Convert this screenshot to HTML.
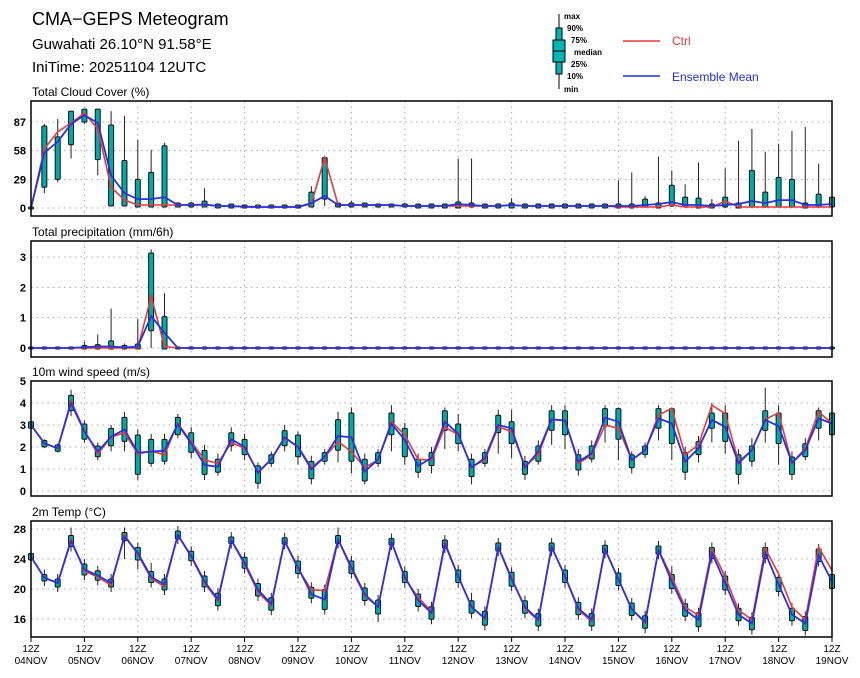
<!DOCTYPE html>
<html><head><meta charset="utf-8">
<style>
html,body{margin:0;padding:0;background:#fff;}
svg{display:block;font-family:"Liberation Sans",sans-serif;}
</style></head>
<body>
<svg id="chart" width="860" height="678" viewBox="0 0 860 678">
<text x="32" y="25" font-size="18">CMA−GEPS Meteogram</text>
<text x="32" y="49" font-size="15">Guwahati 26.10°N 91.58°E</text>
<text x="32" y="72" font-size="15">IniTime: 20251104 12UTC</text>
<g font-size="8" font-weight="bold">
<line x1="559" y1="14" x2="559" y2="89" stroke="#000"/>
<rect x="556" y="28" width="6" height="46" fill="#00b5b5" stroke="#000"/>
<rect x="553" y="40" width="12" height="22" fill="#00b5b5" stroke="#000"/>
<line x1="553" y1="51" x2="565" y2="51" stroke="#000"/>
<text x="564" y="19">max</text><text x="567" y="31">90%</text><text x="571" y="43">75%</text>
<text x="574" y="55">median</text><text x="571" y="67">25%</text><text x="567" y="79">10%</text><text x="564" y="92">min</text>
<line x1="623" y1="41" x2="660" y2="41" stroke="#e83a3a" stroke-width="1.5"/>
<text x="672" y="45" font-size="12" font-weight="normal" fill="#e83a3a">Ctrl</text>
<line x1="623" y1="76" x2="660" y2="76" stroke="#2030e0" stroke-width="1.5"/>
<text x="672" y="81" font-size="12" font-weight="normal" fill="#2030e0">Ensemble Mean</text>
</g>
</svg>
<script>
// ---- data (6-hourly, 61 steps) ----
const days = ["04NOV","05NOV","06NOV","07NOV","08NOV","09NOV","10NOV","11NOV","12NOV","13NOV","14NOV","15NOV","16NOV","17NOV","18NOV","19NOV"];
const cloudTicks = [0,29,58,87];
const precTicks = [0,1,2,3];
const windTicks = [0,1,2,3,4,5];
const tempTicks = [16,20,24,28];

const cloudMean = [0,56,67,85,94,86,33,15,9,9,11,3,3,3.5,2, 2,1.3,1,1,1,1,5,12,3,3,3,3,3,2,2,2, 2,4,3,2,2,3,2,2,2,2,2,2,2,2,2, 3,4,6,3,3,2,3,4,7,5,8,8,3,3,4];
const cloudCtrl = [0,60,77,86,96,80,21,8,3,3,3,3,3,3,2, 2,1,1,1,1,1,4,51,3,3,3,3,3,2,2,2, 2,2,2,2,2,3,2,2,2,2,2,2,2,1,1, 1,1,3,1,1,1,7,1,1,1,1,1,1,1,1];
const cloudLo = [0,22,30,65,88,50,3,3,2,2,2,2,2,2,1, 1,1,1,1,1,1,2,10,2,2,2,2,2,2,1,1, 1,1,2,1,1,1,1,1,1,1,1,1,1,1,1, 2,1,3,2,1,1,2,1,2,2,2,2,1,2,2];
const cloudHi = [0,82,71,97,99,99,83,47,28,35,62,4,4,6,3, 3,2,2,2,2,2,15,50,4,4,4,3,3,3,3,3, 3,5,4,3,3,4,3,3,3,3,3,3,3,3,3, 8,4,22,10,9,3,10,4,37,15,30,28,4,13,10];
const cloudMin = [0,15,26,50,85,33,2,2,1,1,1,1,1,1,0, 0,0,0,0,0,0,1,2,1,1,1,1,1,1,0,0, 0,0,1,0,0,0,0,0,0,0,0,0,0,0,0, 0,0,1,0,0,0,0,0,0,0,0,0,0,0,0];
const cloudMax = [0,85,90,97,100,99,98,93,69,59,66,5,6,20,4, 3,3,3,3,3,3,22,52,4,7,4,4,4,5,4,4, 4,50,50,4,4,10,4,4,4,4,4,4,4,28,36, 12,52,38,24,46,9,40,68,80,57,65,78,82,45,10];

const precMean = [0,0,0,0,0.03,0.05,0.05,0.02,0.05,1.05,0.5,0,0,0,0,0,0,0,0,0,0,0,0,0,0,0,0,0,0,0,0,0,0,0,0,0,0,0,0,0,0,0,0,0,0,0,0,0,0,0,0,0,0,0,0,0,0,0,0,0,0];
const precCtrl = [0,0,0,0,0,0,0,0,0,1.7,0.05,0,0,0,0,0,0,0,0,0,0,0,0,0,0,0,0,0,0,0,0,0,0,0,0,0,0,0,0,0,0,0,0,0,0,0,0,0,0,0,0,0,0,0,0,0,0,0,0,0,0];
const precLo = [0,0,0,0,0,0,0,0,0,0.6,0,0,0,0,0,0,0,0,0,0,0,0,0,0,0,0,0,0,0,0,0,0,0,0,0,0,0,0,0,0,0,0,0,0,0,0,0,0,0,0,0,0,0,0,0,0,0,0,0,0,0];
const precHi = [0,0,0,0,0.05,0.08,0.2,0.05,0.1,3.1,1.0,0,0,0,0,0,0,0,0,0,0,0,0,0,0,0,0,0,0,0,0,0,0,0,0,0,0,0,0,0,0,0,0,0,0,0,0,0,0,0,0,0,0,0,0,0,0,0,0,0,0];
const precMin = [0,0,0,0,0,0,0,0,0,0,0,0,0,0,0,0,0,0,0,0,0,0,0,0,0,0,0,0,0,0,0,0,0,0,0,0,0,0,0,0,0,0,0,0,0,0,0,0,0,0,0,0,0,0,0,0,0,0,0,0,0];
const precMax = [0,0,0,0,0.2,0.45,1.3,0.15,0.95,3.25,1.8,0,0,0,0,0,0,0,0,0,0,0,0,0,0,0,0,0,0,0,0,0,0,0,0,0,0,0,0,0,0,0,0,0,0,0,0,0,0,0,0,0,0,0,0,0,0,0,0,0,0];

const windMean = [3.0,2.17,1.94,4.0,2.7,1.79,2.47,2.8,1.74,1.79,1.83,3.03,2.17,1.18,1.1,2.35,2.0,0.83,1.44,2.44,2.0,0.99,1.56,2.5,2.44,0.88,1.44,3.07,2.32,1.14,1.5,3.15,2.6,1.07,1.5,3.0,2.85,1.07,1.79,3.26,3.2,1.33,1.71,3.33,3.15,1.41,1.86,3.3,3.07,1.33,1.94,3.23,2.92,1.26,1.86,3.23,2.95,1.29,1.86,3.3,3.07];
const windCtrl = [3.0,2.17,1.94,4.1,2.75,1.68,2.45,2.65,1.68,1.82,1.64,3.07,2.24,1.41,1.26,2.2,1.94,0.87,1.44,2.4,2.03,1.07,1.56,2.24,1.79,1.07,1.41,3.15,2.55,1.44,1.41,2.92,2.55,1.1,1.41,2.92,2.7,1.14,1.64,3.26,3.2,1.26,1.64,3.0,2.85,1.41,1.86,3.45,3.76,1.64,2.1,3.9,3.52,1.33,1.86,3.26,3.55,1.26,1.94,3.6,3.07];
const windLo = [2.9,2.05,1.85,3.7,2.4,1.6,2.1,2.3,0.8,1.3,1.4,2.6,1.8,0.8,0.9,2.1,1.7,0.4,1.3,2.1,1.6,0.6,1.4,1.9,1.4,0.5,1.3,2.6,1.6,0.9,1.2,2.8,2.2,0.7,1.3,2.7,2.2,0.8,1.4,2.8,2.6,1.0,1.5,3.0,2.4,1.1,1.7,2.9,2.2,0.9,1.7,2.9,2.3,0.8,1.4,2.8,2.2,0.8,1.6,2.9,2.6];
const windHi = [3.1,2.25,2.05,4.3,3.0,2.0,2.8,3.3,2.5,2.3,2.3,3.3,2.6,1.8,1.4,2.6,2.3,1.1,1.6,2.7,2.5,1.3,1.7,3.2,3.5,1.4,1.7,3.5,2.8,1.4,1.7,3.6,3.0,1.4,1.7,3.4,3.1,1.3,2.0,3.6,3.6,1.6,2.0,3.7,3.7,1.6,2.0,3.7,3.7,1.7,2.2,3.5,3.5,1.6,2.0,3.6,3.5,1.5,2.1,3.6,3.5];
const windMin = [2.8,1.95,1.75,3.4,2.2,1.4,1.8,1.8,0.5,1.1,1.2,2.4,1.5,0.5,0.7,1.8,1.4,0.1,1.1,1.8,1.2,0.3,1.2,1.3,0.8,0.3,1.1,1.8,1.2,0.6,0.8,1.9,1.8,0.3,1.1,1.7,1.5,0.5,1.2,2.1,1.9,0.7,1.3,2.2,1.4,0.8,1.5,2.3,1.4,0.5,1.3,2.2,1.7,0.3,1.1,2.2,1.2,0.5,1.4,2.3,2.0];
const windMax = [3.2,2.35,2.15,4.6,3.2,2.2,3.0,3.6,2.8,2.6,2.6,3.5,2.9,2.1,1.7,2.9,2.6,1.3,1.8,3.0,2.7,1.6,1.9,3.6,3.8,1.7,1.9,3.9,3.1,1.7,2.0,3.8,3.5,1.7,1.9,3.7,3.7,1.6,2.3,3.9,3.9,1.9,2.3,3.9,3.8,1.8,2.2,3.9,3.8,2.0,2.5,4.0,3.9,1.9,2.4,4.7,3.9,1.8,2.4,3.8,3.8];

const tempMean = [24.3,21.5,20.8,26.4,22.6,21.8,20.8,27.0,24.8,21.6,20.6,27.2,24.4,21.0,18.6,26.5,23.5,19.9,18.0,26.4,22.9,19.3,18.6,26.6,22.9,19.3,17.6,26.3,21.6,18.5,16.8,26.0,21.7,17.6,16.1,25.6,21.3,17.6,15.9,25.6,21.7,17.4,15.9,25.3,21.3,17.3,15.6,25.2,21.0,17.2,15.9,24.8,20.8,16.6,15.4,24.8,20.6,16.6,15.4,24.5,21.0];
const tempCtrl = [24.3,21.5,20.8,26.6,22.4,21.6,20.5,27.2,24.6,21.4,20.3,27.2,24.3,20.8,18.4,26.5,23.3,19.6,17.8,26.4,22.7,19.9,19.8,26.6,22.7,19.1,17.6,26.3,21.4,18.9,17.0,26.2,21.7,17.6,16.0,25.6,21.5,17.4,15.8,25.6,21.7,17.2,15.7,25.3,21.3,17.3,15.5,25.2,21.6,17.6,16.5,25.3,21.6,17.2,15.9,25.4,22.0,17.6,15.9,25.6,22.5];
const tempLo = [24.0,21.2,20.4,25.8,22.0,21.3,20.4,26.6,24.0,21.0,20.0,26.8,23.9,20.4,17.9,26.2,22.9,19.2,17.3,26.1,22.2,18.9,17.4,26.2,22.2,18.6,16.8,26.0,21.0,17.8,16.1,25.6,21.0,16.9,15.3,25.2,20.5,16.9,15.2,25.2,21.0,16.7,15.2,24.9,20.6,16.6,14.9,24.8,20.2,16.5,15.1,24.2,20.0,15.9,14.7,24.2,19.8,15.9,14.6,23.8,20.2];
const tempHi = [24.6,21.8,21.2,27.0,23.2,22.3,21.2,27.4,25.4,22.2,21.2,27.6,24.9,21.6,19.3,26.8,24.1,20.6,18.7,26.7,23.6,20.1,19.8,27.0,23.6,20.0,18.4,26.6,22.2,19.2,17.5,26.4,22.4,18.3,16.9,26.0,22.1,18.3,16.6,26.0,22.4,18.1,16.6,25.7,22.0,18.0,16.3,25.6,21.8,17.9,16.7,25.4,21.6,17.3,16.1,25.4,21.4,17.3,16.2,25.2,21.8];
const tempMin = [23.2,20.4,19.6,25.0,21.2,20.5,19.6,24.0,22.6,20.2,19.2,26.0,23.1,19.6,17.1,25.4,22.1,18.4,16.5,25.3,21.4,18.1,16.6,25.4,21.4,17.8,15.6,25.2,20.2,17.0,15.3,24.8,20.2,16.1,14.5,24.4,19.7,16.1,14.4,24.4,20.2,15.9,14.4,24.1,19.8,15.8,14.1,24.0,19.4,15.7,14.3,23.4,19.2,15.1,13.9,23.4,19.0,15.1,13.8,23.0,19.4];
const tempMax = [25.4,22.6,22.0,28.2,24.0,23.1,22.0,28.2,26.2,23.5,22.0,28.4,25.7,22.4,20.1,27.6,24.9,21.4,19.5,27.5,24.4,20.9,20.6,28.2,24.4,20.8,19.2,27.4,23.0,20.0,18.3,27.2,23.2,19.5,17.7,26.8,22.9,19.1,17.4,26.8,23.2,18.9,17.4,26.5,22.8,18.8,17.1,26.4,23.0,18.7,17.5,26.2,22.4,18.1,16.9,26.2,22.2,18.1,17.0,26.0,22.6];

// ---- drawing ----
const NS = "http://www.w3.org/2000/svg";
const svg = document.getElementById("chart");
const X0 = 31, X1 = 832, NSTEP = 60;
const xs = i => X0 + i * (X1 - X0) / NSTEP;
function mk(tag, attrs, parent) {
  const e = document.createElementNS(NS, tag);
  for (const k in attrs) e.setAttribute(k, attrs[k]);
  (parent || svg).appendChild(e);
  return e;
}
const panels = [
  {name:"cloud-cover", title:"Total Cloud Cover (%)", top:101, bottom:216, v0:0, y0:208, vRef:87, yRef:122, ticks:cloudTicks,
   mean:cloudMean, ctrl:cloudCtrl, lo:cloudLo, hi:cloudHi, mn:cloudMin, mx:cloudMax},
  {name:"precipitation", title:"Total precipitation (mm/6h)", top:241, bottom:357, v0:0, y0:348, vRef:3, yRef:257, ticks:precTicks,
   mean:precMean, ctrl:precCtrl, lo:precLo, hi:precHi, mn:precMin, mx:precMax},
  {name:"wind-speed", title:"10m wind speed (m/s)", top:381, bottom:496, v0:0, y0:491, vRef:5, yRef:381, ticks:windTicks,
   mean:windMean, ctrl:windCtrl, lo:windLo, hi:windHi, mn:windMin, mx:windMax},
  {name:"temperature", title:"2m Temp (°C)", top:521, bottom:637, v0:16, y0:619, vRef:28, yRef:529, ticks:tempTicks,
   mean:tempMean, ctrl:tempCtrl, lo:tempLo, hi:tempHi, mn:tempMin, mx:tempMax}
];
panels.forEach(p => {
  const ys = v => p.y0 + (v - p.v0) * (p.yRef - p.y0) / (p.vRef - p.v0);
  const g = mk("g", {});
  
  
  const t = mk("text", {x:32, y:p.top - 5, "font-size":12}, g);
  t.textContent = p.title;
  
  
  // grid
  for (let d = 1; d < days.length - 1; d++) {
    const gl = mk("line", {x1:xs(d*4), x2:xs(d*4), y1:p.top, y2:p.bottom, stroke:"#aaa", "stroke-dasharray":"1.5,4"}, g);
    
    
  }
  p.ticks.forEach(tv => {
    const y = ys(tv);
    if (y > p.top + 2 && y < p.bottom - 2) {
      const hl = mk("line", {x1:X0, x2:X1, y1:y, y2:y, stroke:"#aaa", "stroke-dasharray":"1.5,4"}, g);
      
      
    }
    const tl = mk("text", {x:26, y:y + 4, "font-size":11, "font-weight":"bold", "text-anchor":"end"}, g);
    tl.textContent = tv;
    
    
  });
  // boxes
  for (let i = 0; i < p.mean.length; i++) {
    const x = xs(i);
    const top = ys(p.mx[i]), bot = ys(p.mn[i]);
    const w = mk("line", {x1:x, x2:x, y1:top, y2:bot, stroke:"#222", "stroke-width":1}, g);
    
    
    const bt = ys(p.hi[i]), bb = ys(p.lo[i]);
    const b = mk("rect", {x:x - 2.5, y:Math.min(bt, bb) - 1, width:5, height:Math.abs(bb - bt) + 2, fill:"#00aaaa", stroke:"#111", "stroke-width":1, rx:1}, g);
    
    
  }
  // lines
  const pts = arr => arr.map((v, i) => xs(i).toFixed(1) + "," + ys(v).toFixed(1)).join(" ");
  const lc = mk("polyline", {points:pts(p.ctrl), fill:"none", stroke:"#e83a3a", "stroke-width":1.6}, g);
  
  
  const lm = mk("polyline", {points:pts(p.mean), fill:"none", stroke:"#2a30e0", "stroke-width":1.8}, g);
  
  
  const fr = mk("rect", {x:X0, y:p.top, width:X1 - X0, height:p.bottom - p.top, fill:"none", stroke:"#000", "stroke-width":1.5}, g);
  
  
});
// x axis labels
days.forEach((d, k) => {
  const x = xs(k * 4);
  const tk = mk("line", {x1:x, x2:x, y1:637, y2:642, stroke:"#000"});
  
  
  const t1 = mk("text", {x:x, y:652, "font-size":10, "text-anchor":"middle"});
  t1.textContent = "12Z";
  
  
  const t2 = mk("text", {x:x, y:664, "font-size":10, "text-anchor":"middle"});
  t2.textContent = d;
  
  
});
</script>
</body></html>
